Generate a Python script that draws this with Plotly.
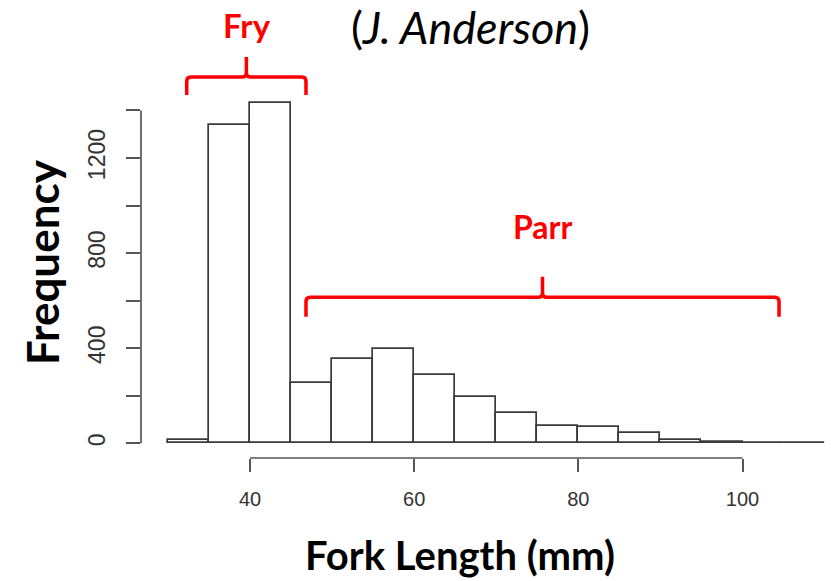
import plotly.graph_objects as go

# Fork length histogram: 5 mm bins
bin_left = [30, 35, 40, 45, 50, 55, 60, 65, 70, 75, 80, 85, 90, 95, 100, 105]
counts = [12, 1340, 1432, 254, 355, 395, 288, 196, 129, 72, 70, 45, 13, 5, 2, 1]
bin_width = 5

x_ticks = [40, 60, 80, 100]
y_ticks = [0, 200, 400, 600, 800, 1000, 1200, 1400]
y_ticktext = ["0", "", "400", "", "800", "", "1200", ""]

W, H = 831, 581
ML, MB, MT, MR = 141, 123, 0, 0
PW, PH = W - ML - MR, H - MT - MB

x_range = [26.72, 110.78]
y_range = [-61.8, 1864.6]

RED = "#ff0000"
AX = "#555555"


def px_x(px):
    return (px - ML) / PW


def px_y(py):
    return (H - MB - py) / PH


def brace(x0, x1, y_bot, y_h, y_tip, rx, ry):
    xm = (x0 + x1) / 2
    return (
        f"M {x0},{y_bot} L {x0},{y_h - ry} Q {x0},{y_h} {x0 + rx},{y_h} "
        f"L {xm - rx},{y_h} Q {xm},{y_h} {xm},{y_h + ry} L {xm},{y_tip} "
        f"L {xm},{y_h + ry} Q {xm},{y_h} {xm + rx},{y_h} "
        f"L {x1 - rx},{y_h} Q {x1},{y_h} {x1},{y_h - ry} L {x1},{y_bot}"
    )


fig = go.Figure()
fig.add_trace(go.Bar(
    x=[b + bin_width / 2 for b in bin_left],
    y=counts,
    width=bin_width,
    marker=dict(color="white", line=dict(color="#3a3a3a", width=1.7)),
    showlegend=False,
    hoverinfo="skip",
))

shapes = [
    # R-style detached axis lines
    dict(type="line", xref="x", yref="paper", x0=40, x1=100, y0=0, y1=0,
         line=dict(color=AX, width=1.7)),
    dict(type="line", xref="paper", yref="y", x0=0, x1=0, y0=0, y1=1400,
         line=dict(color=AX, width=1.7)),
    # Fry and Parr braces
    dict(type="path", xref="x", yref="y",
         path=brace(32.29, 46.82, 1465, 1541, 1625, 0.5, 18),
         line=dict(color=RED, width=3.5)),
    dict(type="path", xref="x", yref="y",
         path=brace(46.82, 104.45, 532, 614, 701, 0.5, 18),
         line=dict(color=RED, width=3.5)),
]

annotations = [
    dict(text="<b>Fry</b>", x=px_x(247), y=px_y(25), xref="paper", yref="paper",
         showarrow=False, xanchor="center", yanchor="middle",
         font=dict(family="Lato", size=33, color=RED)),
    dict(text="<b>Parr</b>", x=px_x(542), y=px_y(226), xref="paper", yref="paper",
         showarrow=False, xanchor="center", yanchor="middle",
         font=dict(family="Lato", size=32, color=RED)),
    dict(text="(<i>J. Anderson</i>)", x=px_x(470), y=px_y(27), xref="paper", yref="paper",
         showarrow=False, xanchor="center", yanchor="middle",
         font=dict(family="Lato", size=45, color="black")),
    dict(text="<b>Fork Length (mm)</b>", x=px_x(460), y=px_y(555), xref="paper", yref="paper",
         showarrow=False, xanchor="center", yanchor="middle",
         font=dict(family="Lato", size=40, color="black")),
    dict(text="<b>Frequency</b>", x=px_x(42), y=px_y(262), xref="paper", yref="paper",
         showarrow=False, xanchor="center", yanchor="middle", textangle=-90,
         font=dict(family="Lato", size=44, color="black")),
]

fig.update_layout(
    width=W, height=H,
    margin=dict(l=ML, r=MR, t=MT, b=MB, pad=0),
    paper_bgcolor="white", plot_bgcolor="white",
    bargap=0,
    shapes=shapes,
    annotations=annotations,
    xaxis=dict(
        range=x_range, tickvals=x_ticks, ticktext=[str(v) for v in x_ticks],
        showline=False, showgrid=False, zeroline=False,
        ticks="outside", ticklen=13, tickwidth=1.7, tickcolor=AX,
        ticklabelstandoff=10,
        tickfont=dict(family="Liberation Sans", size=20, color="#333333"),
    ),
    yaxis=dict(
        range=y_range, tickvals=y_ticks, ticktext=y_ticktext,
        showline=False, showgrid=False, zeroline=False,
        ticks="outside", ticklen=14, tickwidth=1.7, tickcolor=AX,
        tickangle=-90, ticklabelstandoff=12,
        tickfont=dict(family="Liberation Sans", size=23, color="#333333"),
    ),
)

fig.write_html("out.html")
